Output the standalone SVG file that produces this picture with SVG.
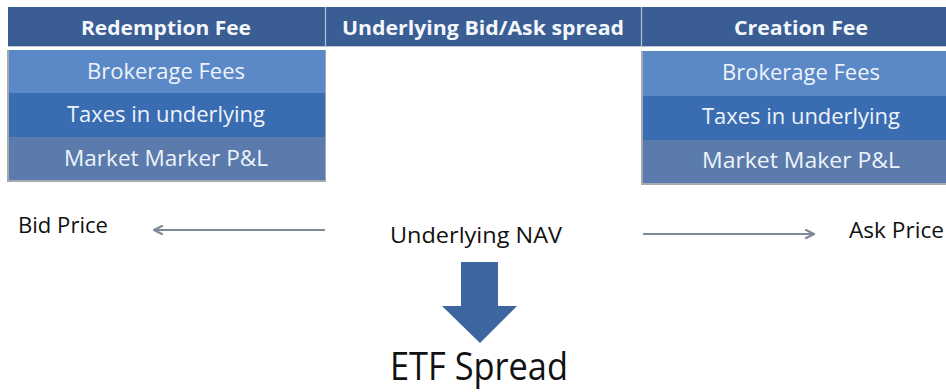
<svg xmlns="http://www.w3.org/2000/svg" width="946" height="392" viewBox="0 0 946 392">
<defs>
<style>
.hdr{fill:#3a5d94}
.hdrtxt{font-family:"Open Sans","Liberation Sans",sans-serif;font-weight:bold;font-size:20px;fill:#f4f7fc;text-anchor:middle}
.rowtxt{font-family:"Open Sans","Liberation Sans",sans-serif;font-size:21px;fill:#eef3fa;text-anchor:middle}
.r1{fill:#5b88c7}
.r2{fill:#3a6cb2}
.r3{fill:#5a7bab}
.lbl{font-family:"Open Sans","Liberation Sans",sans-serif;font-size:21px;fill:#111}
.conn{stroke:#7f8899;stroke-width:2.2;fill:none}
.div{stroke:#b4c2d6;stroke-width:1.2}
.shadow{fill:#a3a9b1}
</style>
<marker id="ah" viewBox="0 0 10 10" refX="9" refY="5" markerWidth="5" markerHeight="5" orient="auto-start-reverse" markerUnits="strokeWidth">
<path d="M1,1 L9,5 L1,9" fill="none" stroke="#7f8899" stroke-width="2"/>
</marker>
</defs>
<rect width="946" height="392" fill="#ffffff"/>

<g id="header">
<rect x="8" y="7" width="938" height="39" class="hdr"/>
<line x1="8" y1="46.5" x2="946" y2="46.5" stroke="#b9c4d4" stroke-width="1.2"/>
<line x1="325.5" y1="7" x2="325.5" y2="47" class="div"/>
<line x1="641.5" y1="7" x2="641.5" y2="47" class="div"/>
</g>
<g id="redemption-fee">
<text x="166" y="35" class="hdrtxt" textLength="170" lengthAdjust="spacingAndGlyphs">Redemption Fee</text>
</g>
<g id="underlying-bid-ask-spread">
<text x="483" y="35" class="hdrtxt" textLength="282" lengthAdjust="spacingAndGlyphs">Underlying Bid/Ask spread</text>
</g>
<g id="creation-fee">
<text x="801" y="35" class="hdrtxt" textLength="134" lengthAdjust="spacingAndGlyphs">Creation Fee</text>
</g>

<g id="left-block">
<rect x="7" y="50" width="319" height="132" class="shadow"/>
<rect x="9" y="50" width="316" height="43" class="r1"/>
<rect x="9" y="93" width="316" height="44" class="r2"/>
<rect x="9" y="137" width="316" height="43" class="r3"/>
<text x="166" y="79" class="rowtxt" textLength="158" lengthAdjust="spacingAndGlyphs">Brokerage Fees</text>
<text x="166" y="122" class="rowtxt" textLength="198" lengthAdjust="spacingAndGlyphs">Taxes in underlying</text>
<text x="166" y="166" class="rowtxt" textLength="204" lengthAdjust="spacingAndGlyphs">Market Marker P&amp;L</text>
</g>

<g id="right-block">
<rect x="641" y="51" width="305" height="134" class="shadow"/>
<rect x="643" y="51" width="303" height="45" class="r1"/>
<rect x="643" y="96" width="303" height="44" class="r2"/>
<rect x="643" y="140" width="303" height="43" class="r3"/>
<text x="801" y="80" class="rowtxt" textLength="158" lengthAdjust="spacingAndGlyphs">Brokerage Fees</text>
<text x="801" y="124" class="rowtxt" textLength="198" lengthAdjust="spacingAndGlyphs">Taxes in underlying</text>
<text x="801" y="168" class="rowtxt" textLength="198" lengthAdjust="spacingAndGlyphs">Market Maker P&amp;L</text>
</g>

<g id="bid-price">
<text x="18" y="233" class="lbl" textLength="90" lengthAdjust="spacingAndGlyphs">Bid Price</text>
</g>
<g id="underlying-nav">
<text x="390" y="243" class="lbl" textLength="172" lengthAdjust="spacingAndGlyphs">Underlying NAV</text>
</g>
<g id="ask-price">
<text x="849" y="238" class="lbl" textLength="95" lengthAdjust="spacingAndGlyphs">Ask Price</text>
</g>
<g id="etf-spread">
<text x="390" y="380" font-family="'Open Sans','Liberation Sans',sans-serif" font-size="38" fill="#111" textLength="178" lengthAdjust="spacingAndGlyphs">ETF Spread</text>
</g>

<g id="connectors">
<line x1="325" y1="230" x2="154" y2="230" class="conn" marker-end="url(#ah)"/>
<line x1="643" y1="234" x2="814" y2="234" class="conn" marker-end="url(#ah)"/>
<polygon points="461,262 498,262 498,306 517,306 480,343 442,306 461,306" fill="#3d65a0"/>
</g>
</svg>
